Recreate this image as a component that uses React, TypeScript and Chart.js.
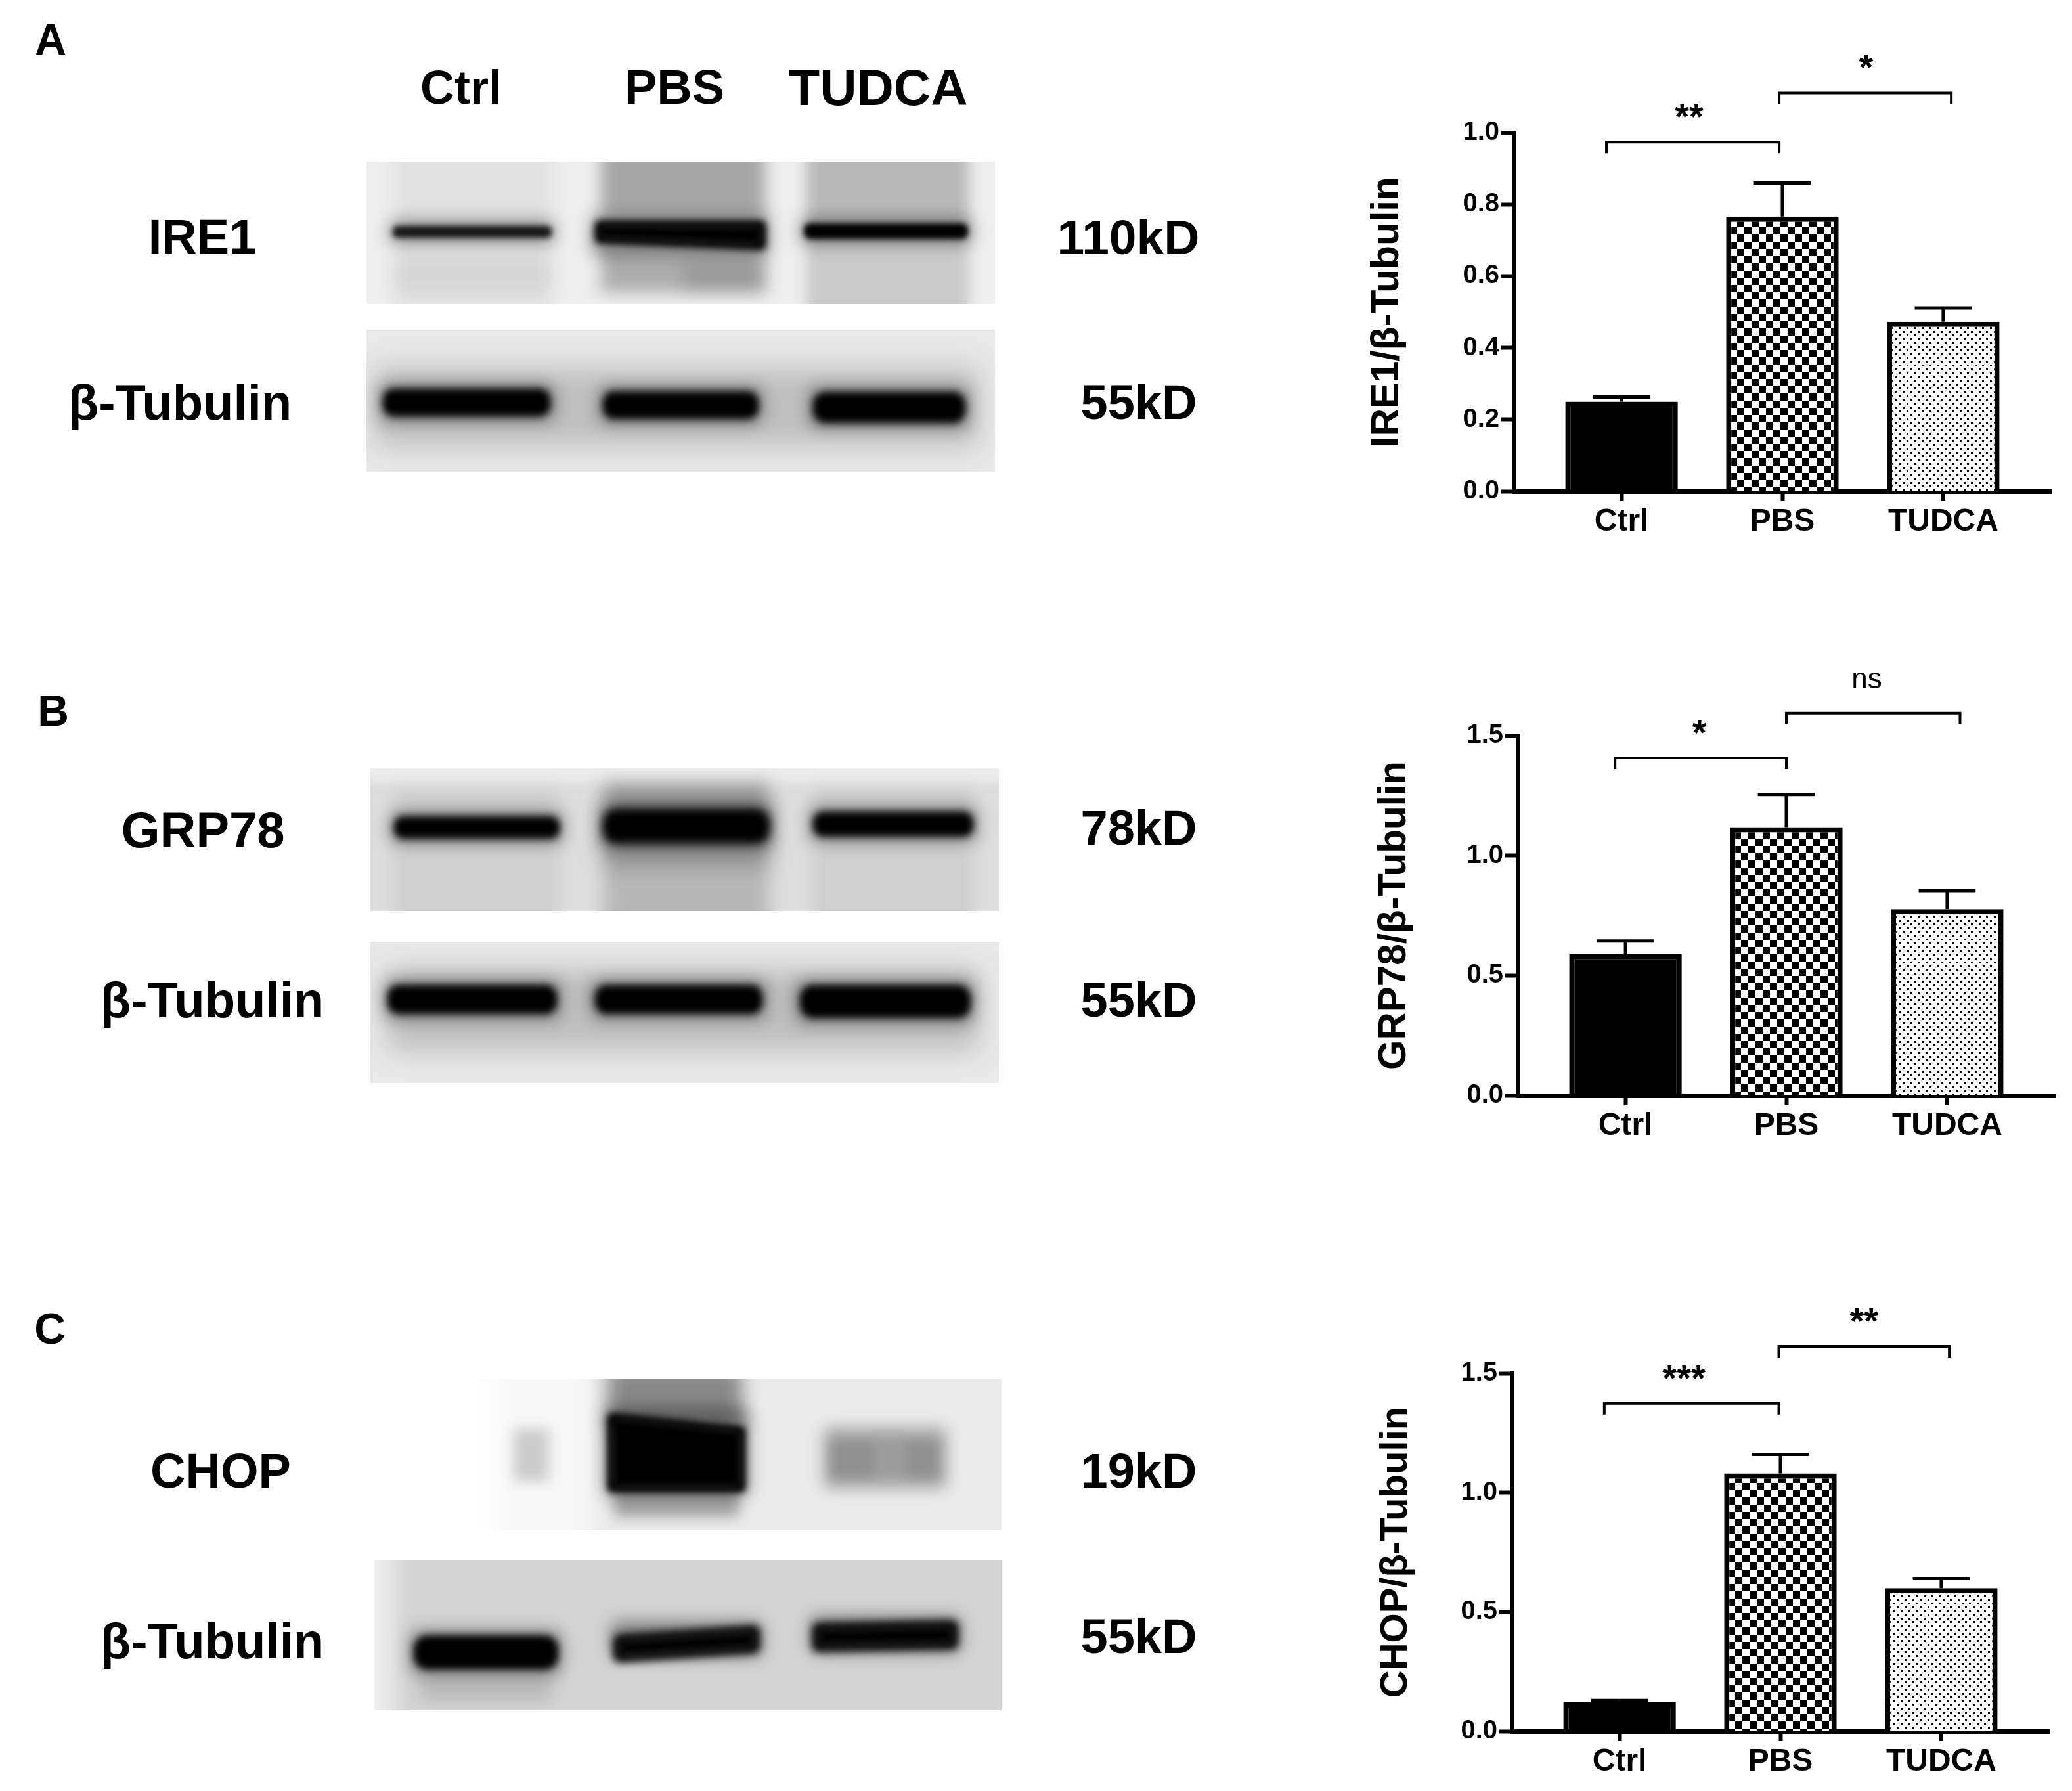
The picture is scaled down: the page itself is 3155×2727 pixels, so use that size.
import React, { useEffect, useRef } from "react";
import { Chart, registerables } from "chart.js";

Chart.register(...registerables);

const FONT = '"Liberation Sans", Arial, sans-serif';
const categories = ["Ctrl", "PBS", "TUDCA"];

const ire1Means = [0.25, 0.766, 0.473];
const ire1Errors = [0.013, 0.094, 0.038];
const grp78Means = [0.589, 1.118, 0.777];
const grp78Errors = [0.055, 0.136, 0.077];
const chopMeans = [0.121, 1.08, 0.599];
const chopErrors = [0.008, 0.08, 0.041];

const ire1Brackets = [
  { from: -0.094, to: 0.98, y: 0.974, text: "**", at: 0.42 },
  { from: 0.98, to: 2.05, y: 1.111, text: "*", at: 1.52 },
];
const grp78Brackets = [
  { from: -0.065, to: 1.0, y: 1.407, text: "*", at: 0.46 },
  { from: 1.0, to: 2.08, y: 1.594, text: "ns", at: 1.5 },
];
const chopBrackets = [
  { from: -0.095, to: 0.99, y: 1.374, text: "***", at: 0.4 },
  { from: 0.99, to: 2.05, y: 1.613, text: "**", at: 1.52 },
];

const panels = [
  { title: "IRE1/β-Tubulin", titleSize: 59, titlePad: 43, means: ire1Means, errors: ire1Errors, brackets: ire1Brackets, max: 1.0, step: 0.2, left: 2040, top: 60, bottom: 748, axisTop: 202 },
  { title: "GRP78/β-Tubulin", titleSize: 58.5, titlePad: 49, means: grp78Means, errors: grp78Errors, brackets: grp78Brackets, max: 1.5, step: 0.5, left: 2046, top: 980, bottom: 1668, axisTop: 1120 },
  { title: "CHOP/β-Tubulin", titleSize: 58, titlePad: 60, means: chopMeans, errors: chopErrors, brackets: chopBrackets, max: 1.5, step: 0.5, left: 2037, top: 1950, bottom: 2636, axisTop: 2091 },
];

const textLabels: [string, number, number, number][] = [
  ["A", 77, 60, 66], ["Ctrl", 702, 133, 72], ["PBS", 1027, 133, 74], ["TUDCA", 1337, 133, 78],
  ["IRE1", 308, 361, 74], ["110kD", 1718, 361, 75], ["β-Tubulin", 274, 613, 76], ["55kD", 1734, 613, 74],
  ["B", 81, 1082, 66], ["GRP78", 309, 1264, 76], ["78kD", 1734, 1261, 74], ["β-Tubulin", 323, 1523, 76], ["55kD", 1734, 1523, 74],
  ["C", 76, 2023, 66], ["CHOP", 336, 2240, 74], ["19kD", 1734, 2240, 74], ["β-Tubulin", 323, 2499, 76], ["55kD", 1734, 2492, 74],
];

type Patch = [number, number, number, number, number, number, number?, number?];
type Blot = { box: [number, number, number, number]; bg: string; patches: Patch[] };

// Each patch: x0, x1, y0, y1, darkness, blur, left-edge shift of the top, left-edge shift of the bottom.
const blots: Blot[] = [
  { box: [558, 1515, 246, 463], bg: "#eeeeee", patches: [
    [600, 840, 200, 510, 0.05, 12], [600, 840, 395, 440, 0.05, 12], [915, 1165, 200, 335, 0.3, 12], [915, 1165, 375, 445, 0.27, 12], [1040, 1165, 400, 445, 0.1, 12], [1228, 1475, 200, 340, 0.22, 10], [1228, 1475, 340, 510, 0.15, 10],
    [598, 840, 344, 362, 0.85, 4], [906, 1166, 336, 380, 1, 6, 0, -10], [1224, 1474, 340, 364, 1, 4],
  ] },
  { box: [558, 1515, 502, 718], bg: "#e9e9e9", patches: [
    [570, 1490, 560, 680, 0.18, 22],
    [583, 838, 592, 634, 1, 6], [918, 1155, 596, 638, 1, 6], [1238, 1470, 597, 644, 1, 6],
  ] },
  { box: [564, 1521, 1170, 1387], bg: "#dcdcdc", patches: [
    [500, 1600, 1140, 1190, -0.5, 10], [600, 850, 1200, 1420, 0.05, 12], [920, 1170, 1190, 1420, 0.16, 12], [1240, 1480, 1200, 1420, 0.06, 12], [920, 1170, 1200, 1320, 0.2, 16],
    [600, 852, 1243, 1277, 1, 6], [918, 1172, 1232, 1284, 1, 7], [1238, 1482, 1236, 1274, 1, 6],
  ] },
  { box: [564, 1521, 1434, 1649], bg: "#e9e9e9", patches: [
    [590, 1490, 1475, 1600, 0.18, 20],
    [590, 848, 1500, 1544, 1, 6], [906, 1161, 1500, 1544, 1, 6], [1218, 1478, 1500, 1550, 1, 6],
  ] },
  { box: [570, 1525, 2100, 2329], bg: "#f8f8f8", patches: [
    [500, 760, 2060, 2370, -0.8, 20], [900, 1560, 2080, 2360, 0.05, 16],
    [782, 836, 2175, 2255, 0.18, 10], [925, 1130, 2080, 2170, 0.42, 14], [935, 1125, 2265, 2310, 0.3, 10], [1255, 1440, 2175, 2265, 0.33, 12], [1262, 1330, 2195, 2250, 0.08, 8], [1380, 1435, 2195, 2250, 0.08, 8],
    [925, 1135, 2172, 2272, 1, 6, -20, 0],
  ] },
  { box: [570, 1525, 2376, 2604], bg: "#d4d4d4", patches: [
    [520, 600, 2350, 2630, -0.6, 14], [640, 840, 2540, 2590, 0.12, 12],
    [630, 850, 2490, 2542, 1, 6], [935, 1156, 2476, 2516, 1, 7, 14, 14], [1238, 1458, 2468, 2510, 1, 7, 4, 4],
  ] },
];

function paintBlots(canvas: HTMLCanvasElement) {
  const ctx = canvas.getContext("2d")!;
  for (const blot of blots) {
    const [x0, x1, y0, y1] = blot.box;
    ctx.save();
    ctx.beginPath();
    ctx.rect(x0, y0, x1 - x0, y1 - y0);
    ctx.clip();
    ctx.fillStyle = blot.bg;
    ctx.fillRect(x0, y0, x1 - x0, y1 - y0);
    for (const [a, b, c, d, dark, blur, topShift = 0, bottomShift = 0] of blot.patches) {
      const isBand = dark > 0.5;
      if (isBand) {
        ctx.filter = "blur(12px)";
        ctx.fillStyle = "rgba(0,0,0,0.38)";
        ctx.beginPath();
        ctx.roundRect(a - 6, c - 8 + Math.min(topShift, 0), b - a + 12, d - c + 16 - Math.min(topShift, 0), 14);
        ctx.fill();
      }
      ctx.filter = `blur(${blur}px)`;
      ctx.fillStyle = dark >= 0 ? `rgba(0,0,0,${dark})` : `rgba(255,255,255,${-dark})`;
      ctx.beginPath();
      if (topShift || bottomShift) {
        const inset = 6;
        ctx.moveTo(a + inset, c + topShift + inset);
        ctx.lineTo(b - inset, c + inset);
        ctx.lineTo(b - inset, d - inset);
        ctx.lineTo(a + inset, d + bottomShift - inset);
        ctx.closePath();
        ctx.strokeStyle = ctx.fillStyle;
        ctx.lineWidth = inset * 2;
        ctx.lineJoin = "round";
        ctx.stroke();
      } else {
        ctx.roundRect(a, c, b - a, d - c, isBand ? (d - c) / 2.5 : 0);
      }
      ctx.fill();
    }
    ctx.restore();
  }
}

function makeTile(size: number, draw: (c: CanvasRenderingContext2D) => void) {
  const tile = document.createElement("canvas");
  tile.width = size;
  tile.height = size;
  const c = tile.getContext("2d")!;
  c.fillStyle = "#fff";
  c.fillRect(0, 0, size, size);
  c.fillStyle = "#000";
  draw(c);
  return c.createPattern(tile, "repeat")!;
}

const checkerPattern = () =>
  makeTile(22, (c) => {
    c.fillRect(0, 0, 11, 11);
    c.fillRect(11, 11, 11, 11);
  });

const dotPattern = () =>
  makeTile(23, (c) => {
    for (const [x, y] of [[1, 1], [12, 1], [7, 7], [18, 7], [1, 12], [12, 12], [7, 18], [18, 18]]) {
      c.fillRect(x, y, 3, 3);
    }
  });

const annotations = {
  id: "annotations",
  afterDatasetsDraw(chart: any, _a: any, opts: any) {
    const { ctx, scales } = chart;
    const { x, y } = scales;
    ctx.save();
    ctx.strokeStyle = "#000";
    ctx.fillStyle = "#000";
    opts.means.forEach((m: number, i: number) => {
      const cx = x.getPixelForValue(i);
      const top = y.getPixelForValue(m + opts.errors[i]);
      const base = y.getPixelForValue(m);
      ctx.lineWidth = 5;
      ctx.beginPath();
      ctx.moveTo(cx, base);
      ctx.lineTo(cx, top);
      ctx.stroke();
      ctx.beginPath();
      ctx.moveTo(x.getPixelForValue(i - 0.177), top);
      ctx.lineTo(x.getPixelForValue(i + 0.177), top);
      ctx.stroke();
    });
    ctx.textAlign = "center";
    ctx.textBaseline = "alphabetic";
    opts.brackets.forEach((b: any) => {
      const py = y.getPixelForValue(b.y);
      ctx.lineWidth = 4;
      ctx.beginPath();
      ctx.moveTo(x.getPixelForValue(b.from), py + 17);
      ctx.lineTo(x.getPixelForValue(b.from), py);
      ctx.lineTo(x.getPixelForValue(b.to), py);
      ctx.lineTo(x.getPixelForValue(b.to), py + 17);
      ctx.stroke();
      const isStars = b.text.includes("*");
      ctx.font = isStars ? `bold 56px ${FONT}` : `44px ${FONT}`;
      ctx.fillText(b.text, x.getPixelForValue(b.at), isStars ? py - 45 + 25 : py - 45 + 7);
    });
    ctx.restore();
  },
};

function BarPanel({ p }: { p: (typeof panels)[number] }) {
  const ref = useRef<HTMLCanvasElement>(null);
  useEffect(() => {
    const chart = new Chart(ref.current!, {
      type: "bar",
      data: {
        datasets: [
          {
            data: p.means.map((v, i) => ({ x: i, y: v })),
            backgroundColor: ["#000", checkerPattern(), dotPattern()],
            borderColor: "#000",
            borderWidth: 8,
            borderSkipped: "bottom",
            categoryPercentage: 1,
            barPercentage: 0.7,
          },
        ],
      } as any,
      options: {
        animation: false,
        responsive: false,
        devicePixelRatio: 1,
        layout: { autoPadding: false, padding: { top: p.axisTop - p.top, right: 10, left: 0, bottom: 0 } },
        plugins: {
          legend: { display: false },
          tooltip: { enabled: false },
          annotations: { means: p.means, errors: p.errors, brackets: p.brackets },
        } as any,
        scales: {
          x: {
            type: "linear",
            offset: false,
            min: -0.67,
            max: 2.67,
            afterBuildTicks: (s: any) => {
              s.ticks = categories.map((_, i) => ({ value: i }));
            },
            afterFit: (s: any) => {
              s.height = 90;
            },
            grid: { display: true, offset: false, drawOnChartArea: false, drawTicks: true, tickLength: 15, tickWidth: 6, color: "#000" },
            border: { display: true, width: 7, color: "#000" },
            ticks: {
              autoSkip: false,
              maxRotation: 0,
              padding: 3,
              color: "#000",
              font: { family: FONT, size: 48, weight: "bold" },
              callback: (v: any) => categories[v as number],
            },
          },
          y: {
            min: 0,
            max: p.max,
            afterFit: (s: any) => {
              s.width = 265;
            },
            title: {
              display: true,
              text: p.title,
              color: "#000",
              font: { family: FONT, size: p.titleSize, weight: "bold", lineHeight: 1 },
              padding: { top: p.titlePad, bottom: 0 },
            },
            grid: { display: true, drawOnChartArea: false, drawTicks: true, tickLength: 19, tickWidth: 6, color: "#000" },
            border: { display: true, width: 7, color: "#000" },
            ticks: {
              stepSize: p.step,
              padding: 3,
              color: "#000",
              font: { family: FONT, size: 40, weight: "bold" },
              callback: (v: any) => Number(v).toFixed(1),
            },
          },
        },
      } as any,
      plugins: [annotations],
    });
    return () => chart.destroy();
  }, [p]);
  return (
    <canvas
      ref={ref}
      width={1093}
      height={p.bottom - p.top + 90}
      style={{ position: "absolute", left: p.left, top: p.top, width: 1093, height: p.bottom - p.top + 90 }}
    />
  );
}

export default function App() {
  const blotRef = useRef<HTMLCanvasElement>(null);
  useEffect(() => {
    paintBlots(blotRef.current!);
  }, []);
  return (
    <div style={{ position: "absolute", left: 0, top: 0, width: 3155, height: 2727, background: "#fff", overflow: "hidden" }}>
      <canvas ref={blotRef} width={1900} height={2727} style={{ position: "absolute", left: 0, top: 0 }} />
      {textLabels.map(([t, x, y, size], i) => (
        <div
          key={i}
          style={{
            position: "absolute",
            left: x,
            top: y,
            transform: "translate(-50%, -50%)",
            font: `bold ${size}px/1 ${FONT}`,
            color: "#000",
            whiteSpace: "nowrap",
          }}
        >
          {t}
        </div>
      ))}
      {panels.map((p) => (
        <BarPanel key={p.title} p={p} />
      ))}
    </div>
  );
}
